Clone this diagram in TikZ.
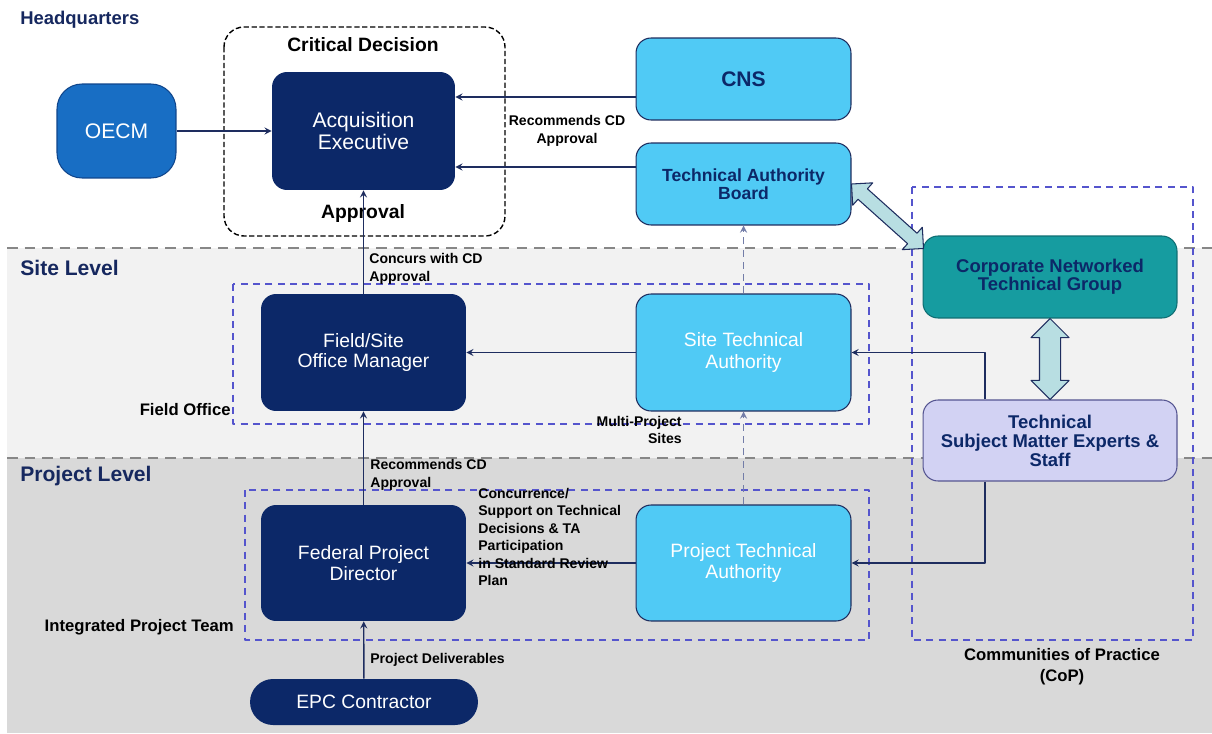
\documentclass[tikz,border=0pt]{standalone}
\usepackage{fontspec}
\setmainfont{Liberation Sans}
\usetikzlibrary{calc,shapes.arrows}
\definecolor{deepnavy}{RGB}{12,40,104}
\definecolor{oecmblue}{RGB}{24,110,196}
\definecolor{oecmline}{RGB}{16,70,140}
\definecolor{skyblue}{RGB}{80,202,245}
\definecolor{tealgrp}{RGB}{22,156,160}
\definecolor{tealline}{RGB}{15,110,115}
\definecolor{lavender}{RGB}{210,210,243}
\definecolor{lavline}{RGB}{85,85,145}
\definecolor{linenavy}{RGB}{30,45,95}
\definecolor{dashline}{RGB}{115,125,168}
\definecolor{boxdash}{RGB}{85,85,205}
\definecolor{sitegrey}{RGB}{242,242,242}
\definecolor{projgrey}{RGB}{217,217,217}
\definecolor{levelgrey}{RGB}{135,135,135}
\definecolor{fatfill}{RGB}{184,222,226}
\definecolor{headnavy}{RGB}{22,40,95}
\begin{document}
\begin{tikzpicture}[x=0.02cm, y=-0.02cm, >=stealth, line join=round,
	darkbox/.style={fill=deepnavy, rounded corners=0.3cm, text=white, align=center, inner sep=0pt, font=\fontsize{11}{11.5}\selectfont},
	skybox/.style={fill=skyblue, draw=linenavy, line width=0.6pt, rounded corners=0.3cm, align=center, inner sep=0pt, minimum width=4.3cm},
	skytext/.style={text=deepnavy, font=\bfseries\fontsize{10}{10.5}\selectfont},
	arr/.style={->, draw=linenavy, line width=0.8pt},
	dasharr/.style={->, draw=dashline, line width=0.8pt, dash pattern=on 4pt off 3pt},
	tag/.style={inner sep=0pt, font=\bfseries\fontsize{8}{10}\selectfont},
	head/.style={inner sep=0pt, anchor=west, text=headnavy, font=\bfseries\fontsize{12}{14}\selectfont},
	grpbox/.style={draw=boxdash, line width=0.8pt, dash pattern=on 4pt off 3pt},
	level/.style={draw=levelgrey, line width=1.6pt, dash pattern=on 6pt off 4pt},
	fatarrow/.style={double arrow, draw=linenavy, fill=fatfill, line width=0.6pt, inner sep=0pt, minimum width=0pt, double arrow head indent=0pt}]
	\useasboundingbox (0,0) rectangle (1212,733);
	\fill[white] (0,0) rectangle (1212,733);
	\fill[sitegrey] (7,248) rectangle (1212,458);
	\fill[projgrey] (7,458) rectangle (1212,733);
	\draw[level] (7,248) -- (1212,248);
	\draw[level] (7,458) -- (1212,458);
	\node[head, font=\bfseries\fontsize{10.5}{12}\selectfont] (hq) at (20,20) {Headquarters};
	\node[head] (site) at (20,268) {Site Level};
	\node[head] (proj) at (20,476) {Project Level};
	\draw[line width=0.8pt, dash pattern=on 3pt off 1.5pt, rounded corners=0.4cm] (224,27) rectangle (505,236);
	\draw[grpbox] (233,284) rectangle (869,424);
	\draw[grpbox] (245,490) rectangle (869,640);
	\draw[grpbox] (912,187) rectangle (1193,640);
	\node[tag, font=\bfseries\fontsize{11}{13}\selectfont] (cd) at (363,45) {Critical Decision};
	\node[tag, font=\bfseries\fontsize{11}{13}\selectfont] (appr) at (363,214) {Approval};
	\node[tag, anchor=east, font=\bfseries\fontsize{9.5}{11}\selectfont] (fieldoff) at (231,410) {Field Office};
	\node[tag, anchor=east, font=\bfseries\fontsize{9.5}{11}\selectfont] (ipt) at (234,627) {Integrated Project Team};
	\node[tag, align=center, font=\bfseries\fontsize{9.5}{12}\selectfont] (cop) at (1062,667) {Communities of Practice\\(CoP)};
	\node[darkbox, fill=oecmblue, draw=oecmline, line width=0.6pt, rounded corners=0.5cm, minimum width=2.38cm, minimum height=1.88cm, font=\fontsize{12}{14}\selectfont] (OECM) at (116.5,131) {OECM};
	\node[darkbox, minimum width=3.66cm, minimum height=2.36cm, font=\fontsize{12}{12.5}\selectfont] (AE) at (363.5,131) {Acquisition\\Executive};
	\node[skybox, skytext, minimum height=1.64cm, font=\bfseries\fontsize{12}{14}\selectfont] (CNS) at (743.5,79) {CNS};
	\node[skybox, skytext, minimum height=1.64cm] (TAB) at (743.5,184) {Technical Authority\\Board};
	\node[darkbox, minimum width=4.1cm, minimum height=2.34cm] (FSM) at (363.5,352.5) {Field/Site\\Office Manager};
	\node[skybox, minimum height=2.34cm, text=white, font=\fontsize{11}{12}\selectfont] (STA) at (743.5,352.5) {Site Technical\\Authority};
	\node[darkbox, minimum width=4.1cm, minimum height=2.32cm] (FPD) at (363.5,563) {Federal Project\\Director};
	\node[skybox, minimum height=2.32cm, text=white, font=\fontsize{11}{12}\selectfont] (PTA) at (743.5,563) {Project Technical\\Authority};
	\node[darkbox, rounded corners=0.46cm, minimum width=4.56cm, minimum height=0.92cm] (EPC) at (364,702) {EPC Contractor};
	\node[skybox, skytext, fill=tealgrp, draw=tealline, minimum width=5.08cm, minimum height=1.64cm, font=\bfseries\fontsize{10.5}{10.5}\selectfont] (CNTG) at (1050,277) {Corporate Networked\\Technical Group};
	\node[skybox, skytext, fill=lavender, draw=lavline, minimum width=5.08cm, minimum height=1.62cm, font=\bfseries\fontsize{10.5}{10.8}\selectfont] (TSME) at (1050,440.5) {Technical\\Subject Matter Experts \&\\Staff};
	\draw[arr] (OECM) -- (AE);
	\draw[arr] (CNS.west |- 0,97) -- (AE.east |- 0,97);
	\draw[arr] (TAB.west |- 0,167) -- (AE.east |- 0,167);
	\node[tag, align=center] (recAE) at (567,131) {Recommends CD\\Approval};
	\draw[arr] (FSM) -- (AE);
	\node[tag, anchor=west, align=left] (concur) at (369,269) {Concurs with CD\\Approval};
	\draw[arr] (STA) -- (FSM);
	\node[tag, anchor=east, align=right] (multi) at (682,430) {Multi-Project\\Sites};
	\draw[arr] (FPD) -- (FSM);
	\node[tag, anchor=west, align=left] (recFSM) at (370,475) {Recommends CD\\Approval};
	\draw[arr] (PTA) -- (FPD);
	\node[tag, anchor=west, align=left] (support) at (478,537) {Concurrence/\\Support on Technical\\Decisions \& TA\\Participation\\in Standard Review\\Plan};
	\draw[arr] (EPC) -- (FPD);
	\node[tag, anchor=west] (deliv) at (370,660) {Project Deliverables};
	\draw[dasharr] (PTA) -- (STA);
	\draw[dasharr] (STA) -- (TAB);
	\draw[arr] (TSME.north -| 985,0) |- (STA.east);
	\draw[arr] (TSME.south -| 985,0) |- (PTA.east);
	\coordinate (fatA) at (TAB.east);
	\coordinate (fatB) at ($(CNTG.north west)+(1,13)$);
	\path let \p1=($(fatB)-(fatA)$) in node[fatarrow, minimum height={veclen(\x1,\y1)*1pt}, rotate={atan2(\y1,\x1)}, inner ysep=0.13cm, double arrow head extend=0.16cm] (linkTC) at ($(fatA)!0.5!(fatB)$) {};
	\path let \p1=($(TSME.north)-(CNTG.south)$) in node[fatarrow, minimum height={veclen(\x1,\y1)*1pt}, rotate=90, inner ysep=0.2cm, double arrow head extend=0.17cm] (linkCT) at ($(CNTG.south)!0.5!(TSME.north)$) {};
\end{tikzpicture}
\end{document}
